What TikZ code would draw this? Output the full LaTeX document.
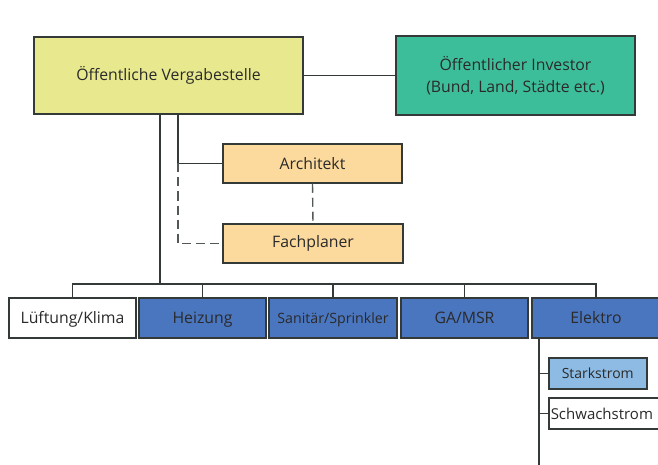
\documentclass[tikz,border=0pt]{standalone}
\usepackage{fontspec}
\setmainfont{Open Sans}
\definecolor{txt}{HTML}{2A2A2A}
\definecolor{edge}{HTML}{333A38}
\definecolor{cyellow}{HTML}{E8E98E}
\definecolor{cteal}{HTML}{3DBE9A}
\definecolor{corange}{HTML}{FCD99C}
\definecolor{cblue}{HTML}{4A76BF}
\definecolor{clblue}{HTML}{8DBBE4}
\tikzset{
  box/.style={draw=edge, line width=1.5pt, text=txt, inner sep=0pt, font=\fontsize{15.8}{22}\selectfont, align=center},
  rowbox/.style={box, minimum height=40pt, text height=12pt, text depth=2pt},
  conn/.style={draw=edge, line width=1.3pt},
  dconn/.style={draw=edge!85, line width=1.4pt, dash pattern=on 9pt off 5pt},
}
\begin{document}
\begin{tikzpicture}[x=1pt,y=-1pt]
\useasboundingbox (0,0) rectangle (658,465);
\clip (0,0) rectangle (658,465);
\fill[white] (0,0) rectangle (658,465);
% top boxes
\node[box, fill=cyellow, minimum width=269pt, minimum height=77pt] (verg) at (168.5,75.5) {Öffentliche Vergabestelle};
\node[box, fill=cteal, minimum width=239pt, minimum height=79pt] (inv) at (515.5,75.5) {Öffentlicher Investor\\(Bund, Land, Städte etc.)};
\draw[conn] (verg.east) -- (inv.west);
% planners
\node[box, fill=corange, minimum width=179pt, minimum height=39pt] (arch) at (312.5,163.5) {Architekt};
\node[box, fill=corange, minimum width=180pt, minimum height=39pt] (fach) at (313,243.5) {Fachplaner};
\coordinate (v1) at (178,114);
\coordinate (v2) at (178,163.5);
\coordinate (v3) at (178,243.5);
\draw[conn] (v1) -- (v2) -- (arch.west);
\draw[dconn] (v2) -- (v3) -- (fach.west);
\draw[dconn] (arch.south) -- (fach.north);
% bus
\coordinate (m1) at (160,114);
\coordinate (bus) at (160,284);
\node[rowbox, fill=white, minimum width=127pt] (luft) at (72.5,318) {Lüftung/Klima};
\node[rowbox, fill=cblue, minimum width=127pt] (heiz) at (202.5,318) {Heizung};
\node[rowbox, fill=cblue, minimum width=128pt, font=\fontsize{14.2}{16}\selectfont] (sani) at (333,318) {Sanitär/Sprinkler};
\node[rowbox, fill=cblue, minimum width=127pt] (gams) at (464.5,318) {GA/MSR};
\node[rowbox, fill=cblue, minimum width=128pt] (elek) at (596,318) {Elektro};
\draw[conn] (m1) -- (bus);
\draw[conn] (luft.north) -- (luft.north |- bus) -- (elek.north |- bus) -- (elek.north);
\foreach \n in {heiz,sani,gams} \draw[conn] (\n.north) -- (\n.north |- bus);
% Elektro sub
\node[box, fill=clblue, minimum width=98pt, minimum height=31pt, anchor=west, font=\fontsize{14}{16}\selectfont] (stark) at (548,373.5) {Starkstrom};
\node[box, fill=white, text width=115pt, align=left, inner xsep=2pt, minimum height=31pt, anchor=west, font=\fontsize{15}{16}\selectfont] (schw) at (548,413.5) {Schwachstrom};
\coordinate (e1) at (539,338);
\coordinate (e2) at (539,470);
\draw[conn] (e1) -- (e2);
\draw[conn] (stark.west) -- (stark.west -| e1);
\draw[conn] (schw.west) -- (schw.west -| e1);
\end{tikzpicture}
\end{document}
